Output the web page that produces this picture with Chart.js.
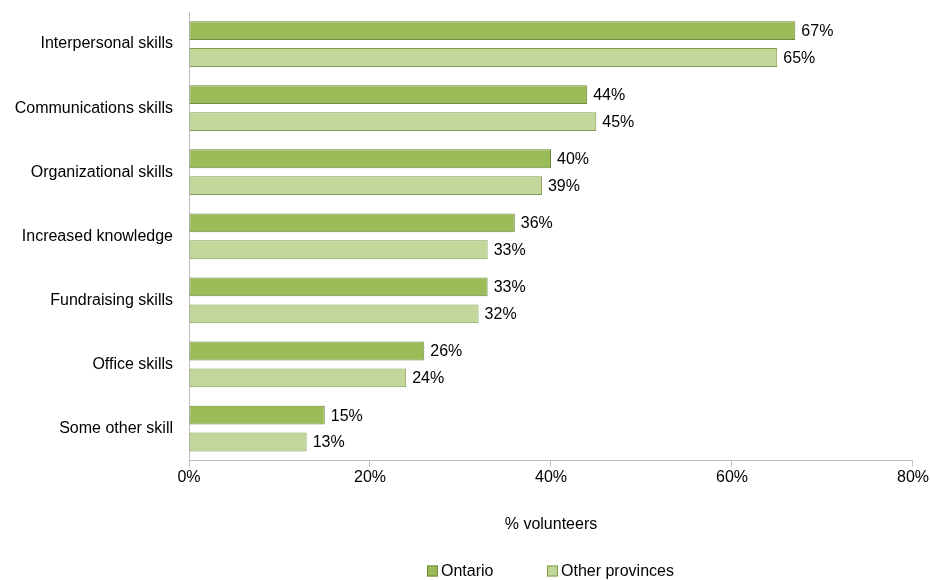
<!DOCTYPE html>
<html>
<head>
<meta charset="utf-8">
<script src="https://cdn.jsdelivr.net/npm/chart.js@4/dist/chart.umd.min.js"></script>
<style>
  html, body { margin: 0; padding: 0; background: #fff; }
  #wrap { width: 930px; height: 580px; }
</style>
</head>
<body>
<div id="wrap"><canvas id="chart"></canvas></div>
<script>
const categories = [
  "Interpersonal skills",
  "Communications skills",
  "Organizational skills",
  "Increased knowledge",
  "Fundraising skills",
  "Office skills",
  "Some other skill"
];
const ontario = [67, 44, 40, 36, 33, 26, 15];
const otherProvinces = [65, 45, 39, 33, 32, 24, 13];
const xTicks = [0, 20, 40, 60, 80];

const FONT = "'Liberation Sans', Arial, sans-serif";
Chart.defaults.font.family = FONT;
Chart.defaults.font.size = 16;
Chart.defaults.color = "#000";

// value labels at the end of each bar
const valueLabels = {
  id: "valueLabels",
  afterDatasetsDraw(chart) {
    const ctx = chart.ctx;
    ctx.save();
    ctx.font = "16px " + FONT;
    ctx.fillStyle = "#000";
    ctx.textBaseline = "middle";
    ctx.textAlign = "left";
    chart.data.datasets.forEach((ds, i) => {
      chart.getDatasetMeta(i).data.forEach((bar, j) => {
        ctx.fillText(ds.data[j] + "%", bar.x + 6, bar.y + 1);
      });
    });
    ctx.restore();
  }
};

// legend at the bottom, spaced like the original
const bottomLegend = {
  id: "bottomLegend",
  afterDraw(chart) {
    const ctx = chart.ctx;
    const y = 571;
    const startX = [427, 547];
    ctx.save();
    ctx.font = "16px " + FONT;
    ctx.textBaseline = "middle";
    ctx.textAlign = "left";
    chart.data.datasets.forEach((ds, i) => {
      const x = startX[i];
      ctx.fillStyle = ds.backgroundColor;
      ctx.fillRect(x, y - 5.5, 11, 11);
      ctx.strokeStyle = ds.borderColor;
      ctx.lineWidth = 1;
      ctx.strokeRect(x + 0.5, y - 5, 10, 10);
      ctx.fillStyle = "#000";
      ctx.fillText(ds.label, x + 14, y + 1);
    });
    ctx.restore();
  }
};

new Chart(document.getElementById("chart"), {
  type: "bar",
  data: {
    labels: categories,
    datasets: [
      {
        label: "Ontario",
        data: ontario,
        backgroundColor: "#9BBB59",
        borderColor: "#6F8A3A",
        borderWidth: 1,
        borderSkipped: false,
        categoryPercentage: 0.84,
        barPercentage: 0.7
      },
      {
        label: "Other provinces",
        data: otherProvinces,
        backgroundColor: "#C4D79B",
        borderColor: "#7F9A48",
        borderWidth: 1,
        borderSkipped: false,
        categoryPercentage: 0.84,
        barPercentage: 0.7
      }
    ]
  },
  options: {
    indexAxis: "y",
    responsive: true,
    maintainAspectRatio: false,
    animation: false,
    layout: { padding: { top: 12, right: 12, left: 0, bottom: 46 } },
    scales: {
      x: {
        min: 0,
        max: 80,
        afterBuildTicks(scale) {
          scale.ticks = xTicks.map(v => ({ value: v }));
        },
        ticks: {
          callback: v => v + "%",
          padding: 1
        },
        grid: {
          drawOnChartArea: false,
          drawTicks: true,
          tickLength: 6,
          color: "#BFBFBF"
        },
        border: { color: "#BFBFBF" },
        title: {
          display: true,
          text: "% volunteers",
          padding: { top: 27, bottom: 0 }
        }
      },
      y: {
        afterFit(scale) {
          scale.width = 189;
          scale.paddingTop = 0;
          scale.paddingBottom = 0;
        },
        ticks: { padding: 16 },
        grid: { drawOnChartArea: false, drawTicks: false },
        border: { color: "#BFBFBF" }
      }
    },
    plugins: {
      legend: { display: false },
      tooltip: { enabled: false }
    }
  },
  plugins: [valueLabels, bottomLegend]
});
</script>
</body>
</html>
